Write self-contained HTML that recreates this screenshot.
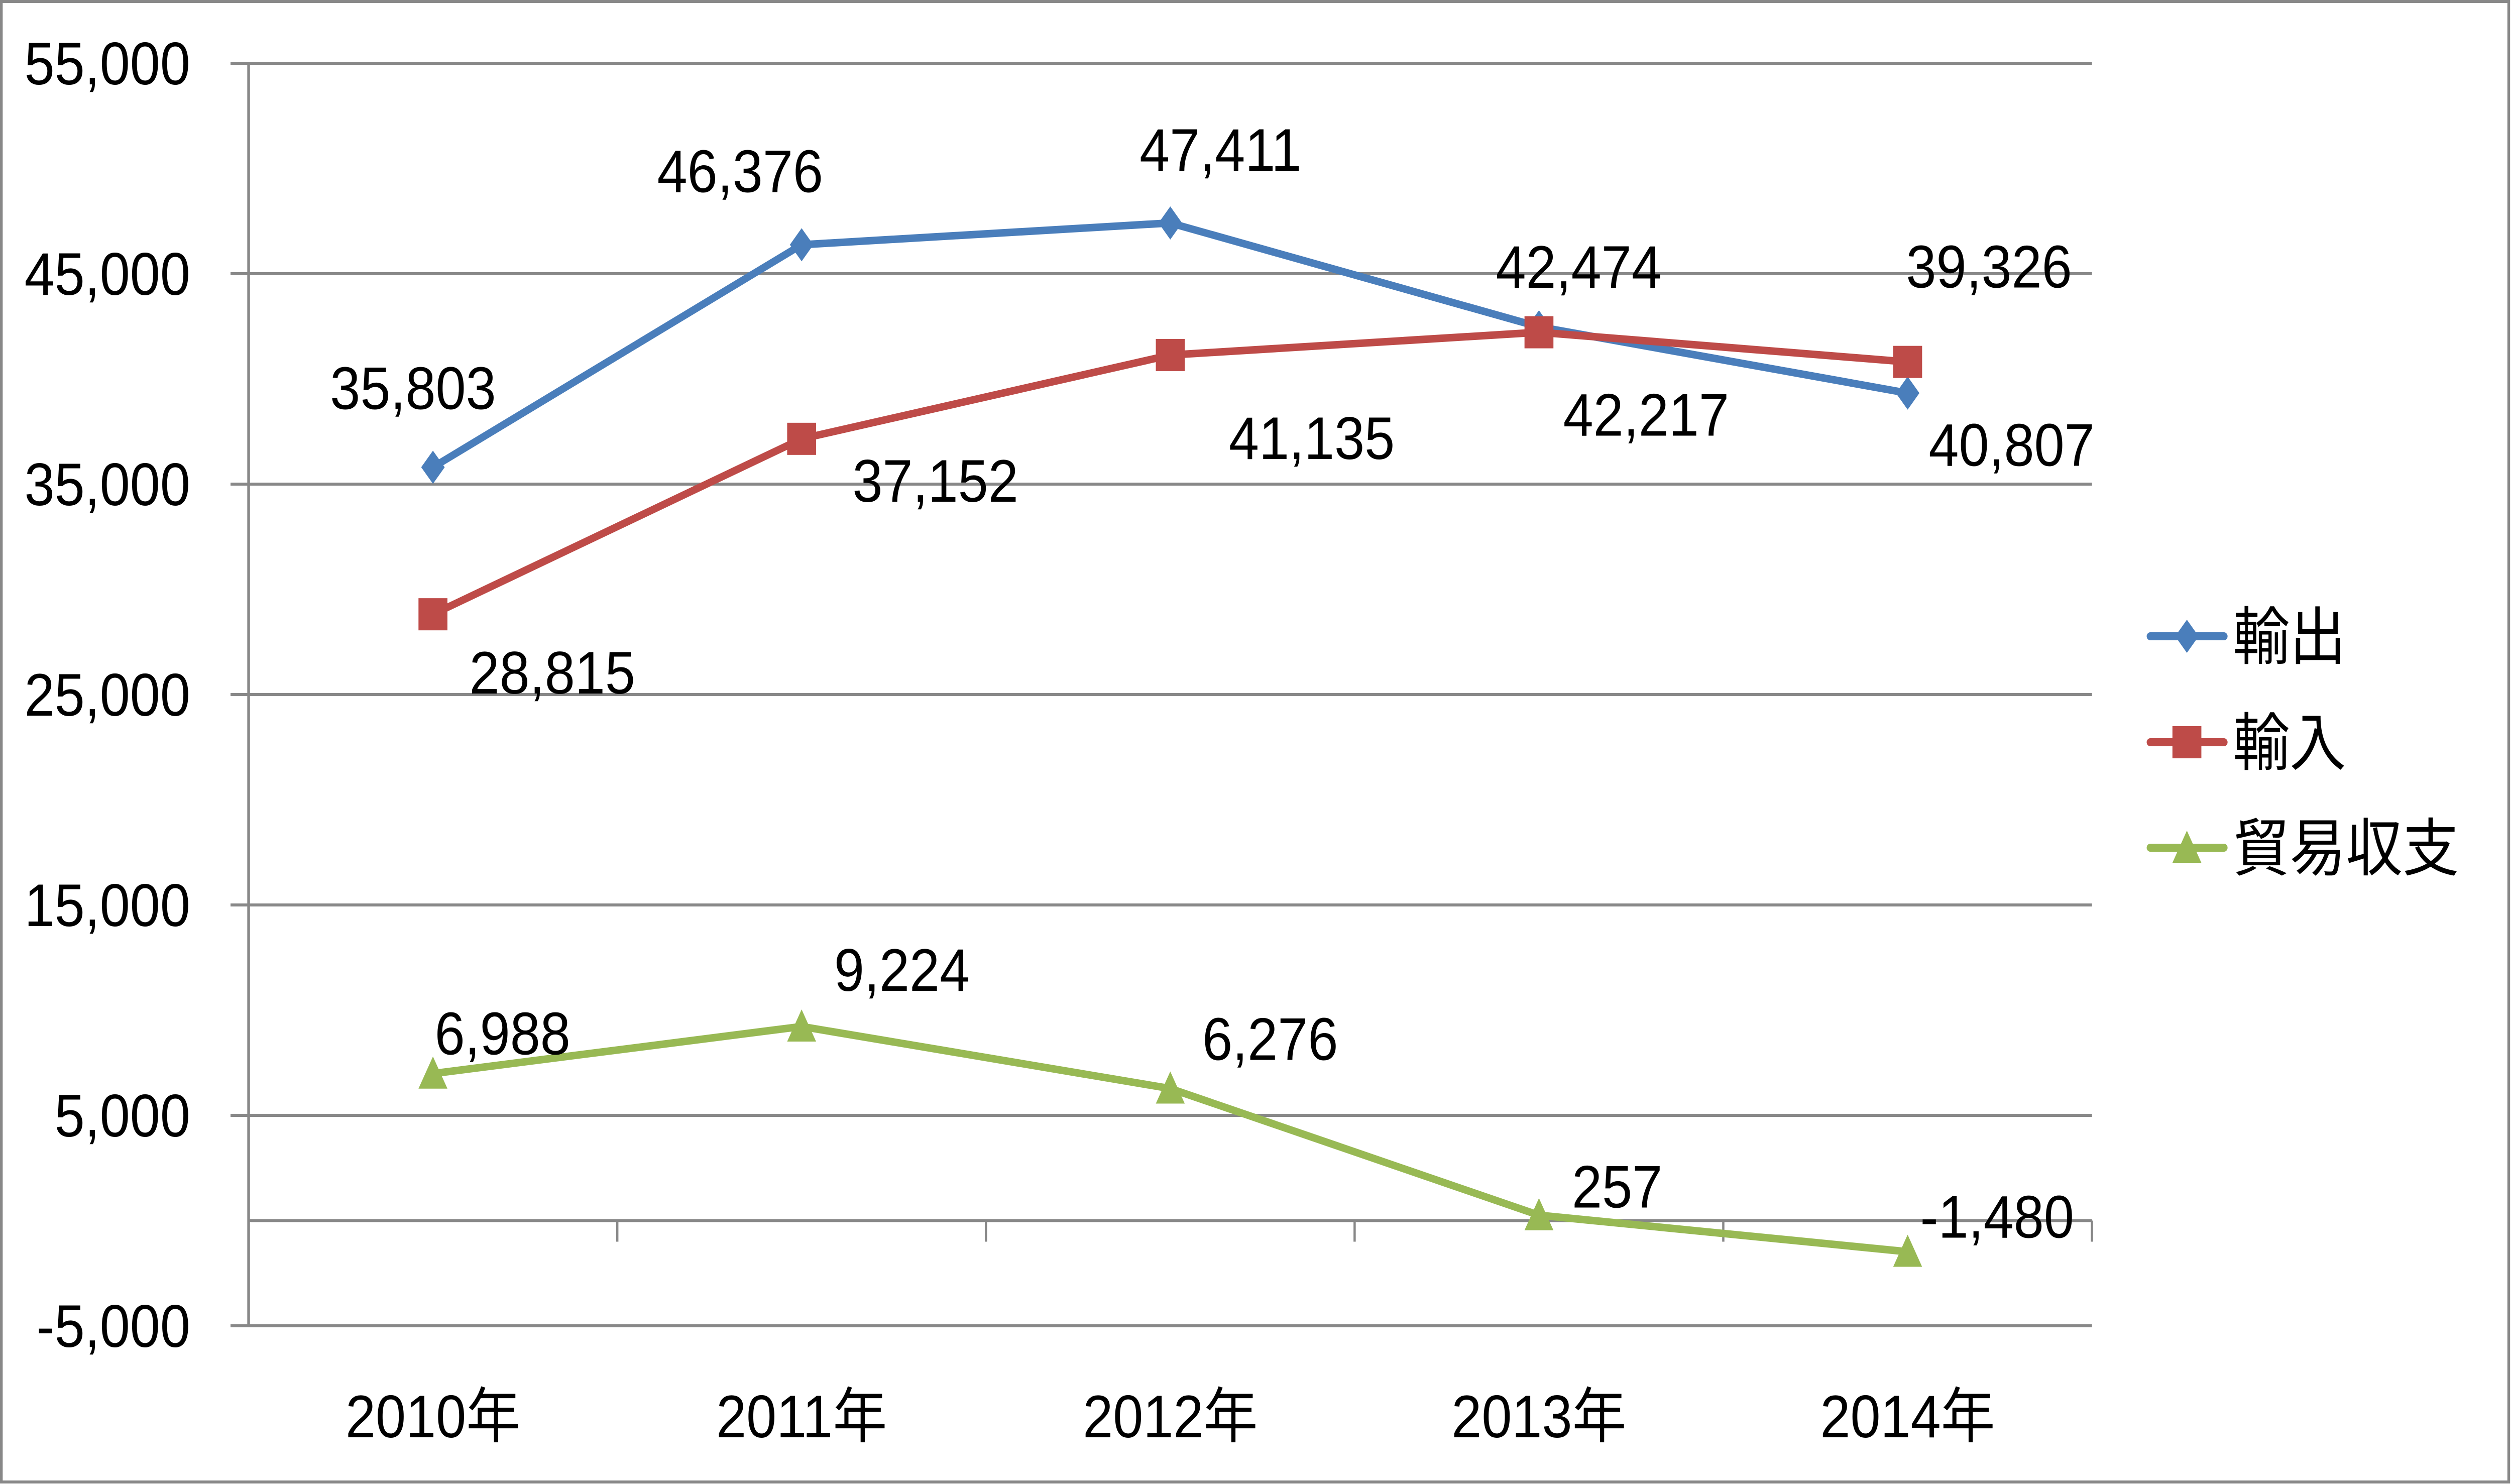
<!DOCTYPE html>
<html><head><meta charset="utf-8"><style>
html,body{margin:0;padding:0;background:#fff;width:100%;height:100%;overflow:hidden}
svg{display:block;width:100vw;height:100vh}
text{font-family:"Liberation Sans","Noto Sans CJK JP",sans-serif;fill:#000}
</style></head><body>
<svg id="chart" viewBox="0 0 5555 2955" preserveAspectRatio="none" xmlns="http://www.w3.org/2000/svg">
<rect x="3" y="3" width="5547" height="2948" fill="#fff" stroke="#888" stroke-width="6"/>
<g id="grid"></g><g id="axes"></g><g id="series"></g><g id="labels"></g>
<g id="legend"></g>
</svg>
<script>
const categories = ["2010年","2011年","2012年","2013年","2014年"];
const exportsVals = [35803, 46376, 47411, 42474, 39326];
const importsVals = [28815, 37152, 41135, 42217, 40807];
const balanceVals = [6988, 9224, 6276, 257, -1480];
const yTicks = [-5000, 5000, 15000, 25000, 35000, 45000, 55000];
const yTickLabels = ["-5,000","5,000","15,000","25,000","35,000","45,000","55,000"];
const seriesNames = ["輸出","輸入","貿易収支"];

const NS="http://www.w3.org/2000/svg";
const L=550,R=4628,T=126,B=2640,yMin=-5000,yMax=55000;
const yS=v=>B-(v-yMin)/(yMax-yMin)*(B-T);
const bw=(R-L)/categories.length;
const xS=i=>L+bw*(i+0.5);
function mk(tag,attrs,parent){const e=document.createElementNS(NS,tag);for(const k in attrs)e.setAttribute(k,attrs[k]);parent.appendChild(e);return e;}
const fmt=v=>(v<0?"-":"")+Math.abs(v).toLocaleString("en-US");
const grid=document.getElementById('grid'),axes=document.getElementById('axes'),ser=document.getElementById('series'),lab=document.getElementById('labels'),leg=document.getElementById('legend');

yTicks.forEach((t,i)=>{
  const y=yS(t);
  const ln=mk('line',{x1:510,x2:R,y1:y,y2:y,stroke:'#888','stroke-width':6},grid);
  
  
  const tx=mk('text',{x:421,y:y+42,'text-anchor':'end','font-size':120},axes);
  tx.textContent=yTickLabels[i];
  
  
});
const y0=yS(0);
const zl=mk('line',{x1:L,x2:R,y1:y0,y2:y0,stroke:'#888','stroke-width':6},axes);


const ya=mk('line',{x1:L,x2:L,y1:T,y2:B,stroke:'#888','stroke-width':6},axes);


for(let i=1;i<=categories.length;i++){
  const x=L+bw*i;
  const tk=mk('line',{x1:x,x2:x,y1:y0,y2:y0+42,stroke:'#888','stroke-width':5},axes);
  
  
}
categories.forEach((c,i)=>{
  const tx=mk('text',{x:xS(i),y:2862,'text-anchor':'middle','font-size':120},axes);
  tx.textContent=c;
  
  
});

const colors=['#4a7ebb','#be4b48','#98b954'];
const data=[exportsVals,importsVals,balanceVals];
const offsets=[
 [[-44,-158],[-136,-147],[111,-146],[88,-120],[180,-252]],
 [[264,116],[296,83],[313,165],[237,164],[230,165]],
 [[154,-80],[222,-113],[221,-99],[173,-57],[198,-70]]
];
function marker(k,x,y,parent){
  let m;
  if(k===0) m=mk('polygon',{points:`${x},${y-33} ${x+26},${y} ${x},${y+33} ${x-26},${y}`,fill:colors[0]},parent);
  else if(k===1) m=mk('rect',{x:x-32,y:y-32,width:64,height:64,fill:colors[1]},parent);
  else m=mk('polygon',{points:`${x},${y-34} ${x+32},${y+30} ${x-32},${y+30}`,fill:colors[2]},parent);
  return m;
}
data.forEach((vals,k)=>{
  const pts=vals.map((v,i)=>xS(i)+','+yS(v)).join(' ');
  const pl=mk('polyline',{points:pts,fill:'none',stroke:colors[k],'stroke-width':15,'stroke-linejoin':'round'},ser);
  
  
  vals.forEach((v,i)=>{
    const m=marker(k,xS(i),yS(v),ser);
    
    
    const tx=mk('text',{x:xS(i)+offsets[k][i][0],y:yS(v)+offsets[k][i][1]+42,'text-anchor':'middle','font-size':120},lab);
    tx.textContent=fmt(v);
    
    
  });
});
const legY=[1267,1478,1688];
seriesNames.forEach((n,k)=>{
  const g=mk('g',{},leg);
  
  
  mk('line',{x1:4757,x2:4920,y1:legY[k],y2:legY[k],stroke:colors[k],'stroke-width':16,'stroke-linecap':'round'},g);
  marker(k,4838,legY[k],g);
  const tx=mk('text',{x:4940,y:legY[k]+45,'font-size':125},g);
  tx.textContent=n;
});
</script>
</body></html>
